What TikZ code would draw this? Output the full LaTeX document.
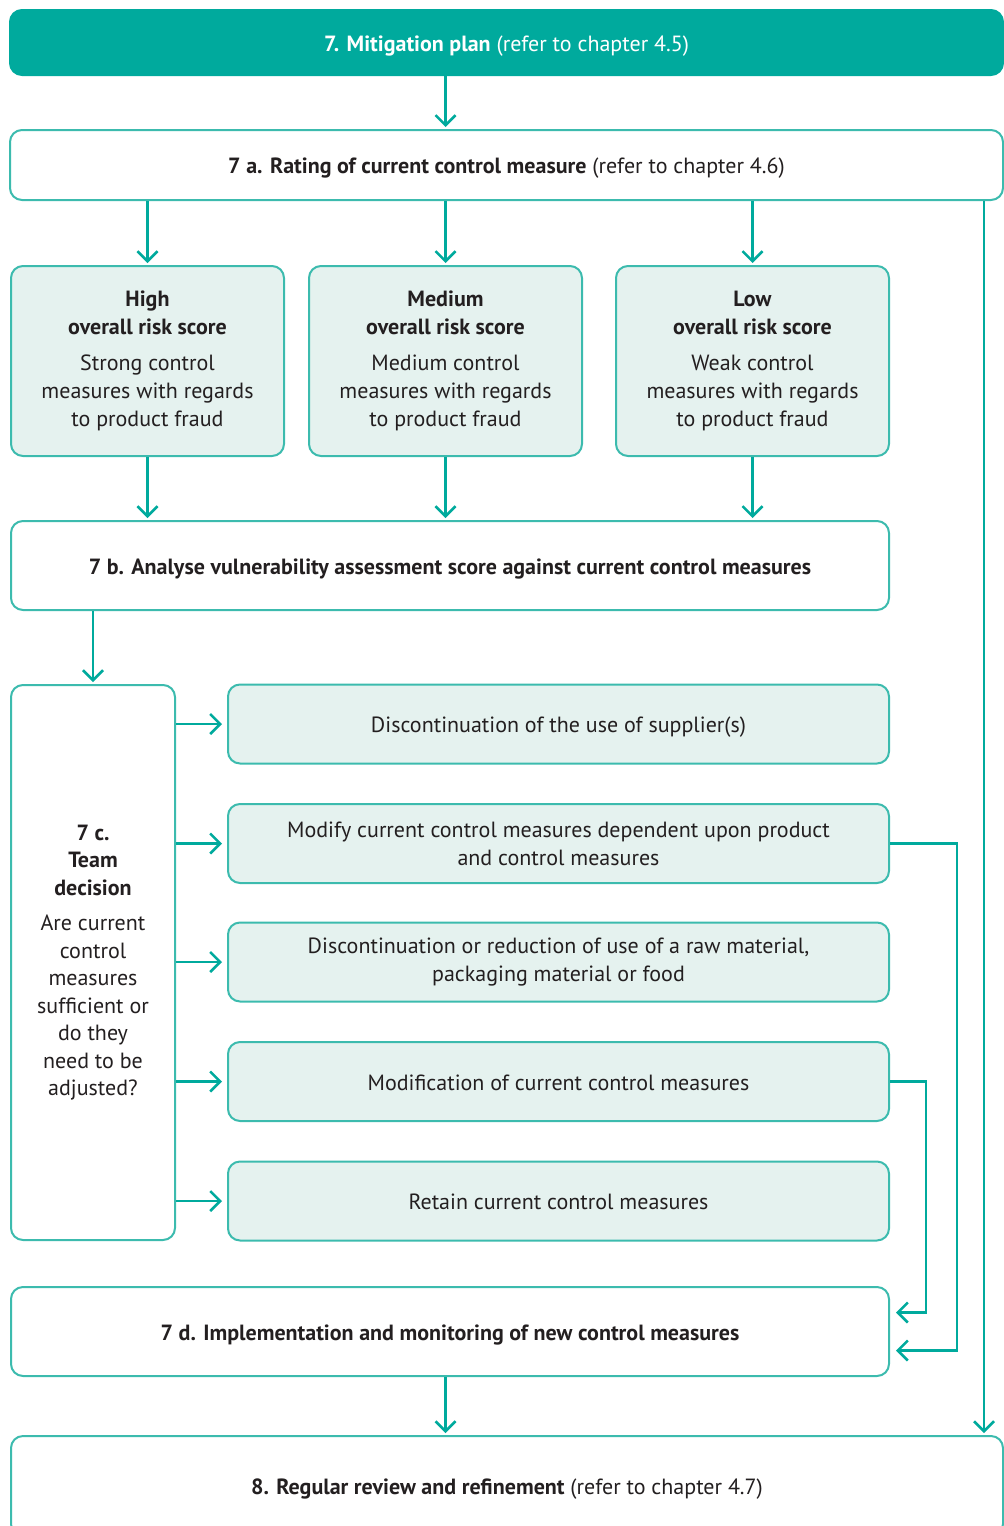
\documentclass[tikz,border=0pt]{standalone}
\usepackage{fontspec}
\setmainfont{PT Sans}
\usetikzlibrary{arrows.meta,calc}
\definecolor{tealdark}{HTML}{00AA9D}
\definecolor{tealline}{HTML}{3CBBAE}
\definecolor{tealfill}{HTML}{E5F2EF}
\definecolor{ink}{HTML}{231F20}

\begin{document}
\begin{tikzpicture}[x=0.5pt, y=-0.5pt, >={Straight Barb[length=5pt,width=10pt]},
    box/.style={draw=tealline, line width=1pt, rounded corners=6pt, fill=white, text=ink,
      align=center, inner sep=0pt, font=\fontsize{11}{14}\selectfont},
    lightbox/.style={box, fill=tealfill},
    oneline/.style={text height=10pt, text depth=1.5pt},
    arr/.style={->, tealdark, line width=1.25pt, shorten >=1pt}]
    \path[use as bounding box, clip] (0,0) rectangle (1004,1526);

    % Steps
    \node[box, oneline, fill=tealdark, draw=tealdark, text=white, minimum width=496.5pt, minimum height=32.5pt]
      (m7) at (506.5,42.5) {\textbf{7. Mitigation plan} (refer to chapter 4.5)};
    \node[box, oneline, minimum width=496.5pt, minimum height=35pt]
      (a7) at (506.5,165) {\textbf{7 a. Rating of current control measure} (refer to chapter 4.6)};

    % Risk scores
    \node[lightbox, minimum width=136.5pt, minimum height=95pt] (high) at (147.5,361)
      {\textbf{High}\\\textbf{overall risk score}\\[4pt]Strong control\\measures with regards\\to product fraud};
    \node[lightbox, minimum width=136.5pt, minimum height=95pt] (med) at (445.5,361)
      {\textbf{Medium}\\\textbf{overall risk score}\\[4pt]Medium control\\measures with regards\\to product fraud};
    \node[lightbox, minimum width=136.5pt, minimum height=95pt] (low) at (752.5,361)
      {\textbf{Low}\\\textbf{overall risk score}\\[4pt]Weak control\\measures with regards\\to product fraud};

    \node[box, oneline, minimum width=439pt, minimum height=44.5pt] (b7) at (450,565.5)
      {\textbf{7 b. Analyse vulnerability assessment score against current control measures}};

    % Team decision
    \node[box, font=\fontsize{11}{13.75}\selectfont, minimum width=82pt, minimum height=277.5pt] (c7) at (93,962.5)
      {\textbf{7 c.}\\\textbf{Team}\\\textbf{decision}\\[4pt]Are current\\control\\measures\\sufficient or\\do they\\need to be\\adjusted?};

    % Options
    \node[lightbox, oneline, minimum width=330.5pt, minimum height=39.5pt] (o1) at (558.5,724)
      {Discontinuation of the use of supplier(s)};
    \node[lightbox, minimum width=330.5pt, minimum height=39.5pt] (o2) at (558.5,843.5)
      {Modify current control measures dependent upon product\\and control measures};
    \node[lightbox, minimum width=330.5pt, minimum height=39.5pt] (o3) at (558.5,962)
      {Discontinuation or reduction of use of a raw material,\\packaging material or food};
    \node[lightbox, oneline, minimum width=330.5pt, minimum height=39.5pt] (o4) at (558.5,1081.5)
      {Modification of current control measures};
    \node[lightbox, oneline, minimum width=330.5pt, minimum height=39.5pt] (o5) at (558.5,1201)
      {Retain current control measures};

    \node[box, oneline, minimum width=439pt, minimum height=44.5pt] (d7) at (450,1331.5)
      {\textbf{7 d. Implementation and monitoring of new control measures}};
    \node[box, oneline, minimum width=496pt, minimum height=50pt] (r8) at (507,1486)
      {\textbf{8. Regular review and refinement} (refer to chapter 4.7)};

    % Connectors
    \coordinate (side) at (984,0);
    \draw[arr] (m7.south -| med) -- (a7.north -| med);
    \foreach \r in {high,med,low} {
      \draw[arr] (a7.south -| \r) -- (\r);
      \draw[arr] (\r) -- (b7.north -| \r);
    }
    \draw[arr] (b7.south -| c7) -- (c7);
    \foreach \o in {o1,o2,o3,o4,o5}
      \draw[arr, shorten >=2.5pt] (c7.east |- \o) -- (\o);
    \draw[arr, shorten >=3pt] (o2.east) -- ++(67,0) |- ($(d7.east)+(0,19)$);
    \draw[arr, shorten >=3pt] (o4.east) -- ++(36,0) |- ($(d7.east)+(0,-19)$);
    \draw[arr] (d7.south -| med) -- (r8.north -| med);
    \draw[arr] (a7.south -| side) -- (r8.north -| side);
\end{tikzpicture}
\end{document}
